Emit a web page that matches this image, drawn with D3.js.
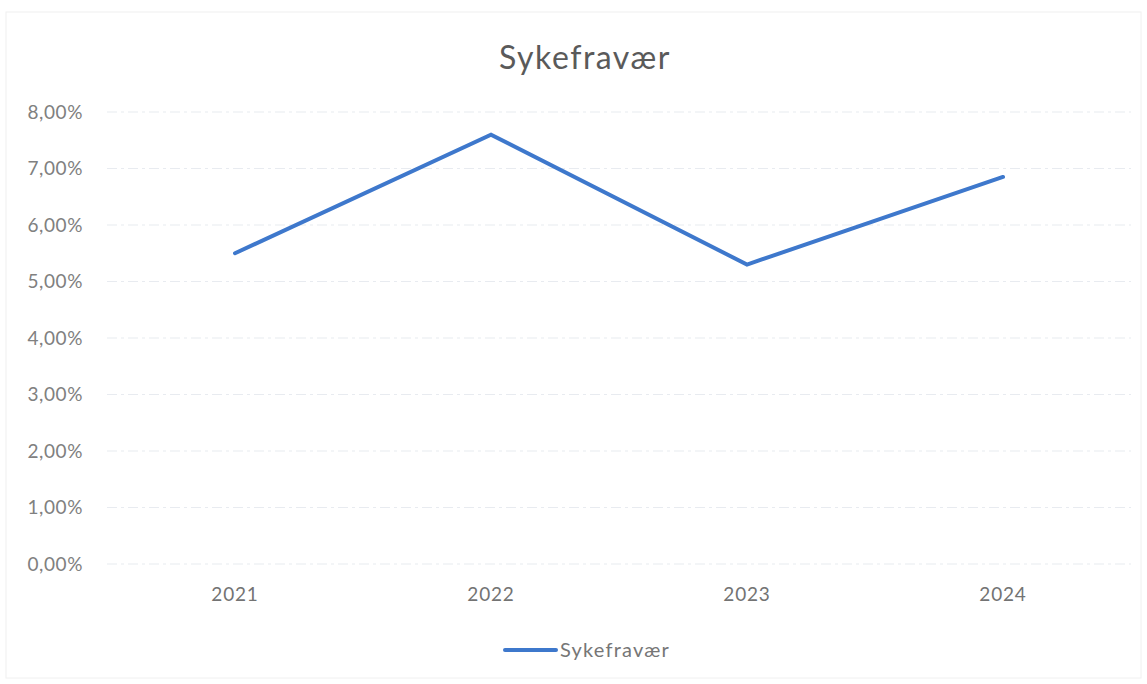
<!DOCTYPE html>
<html><head><meta charset="utf-8">
<script src="https://cdn.jsdelivr.net/npm/d3@7"></script>
<style>body{margin:0;background:#fff;} svg{display:block;}</style>
</head><body>
<script>
const categories = ["2021","2022","2023","2024"];
const values = [0.055, 0.076, 0.053, 0.0685];
const yTicks = [0,0.01,0.02,0.03,0.04,0.05,0.06,0.07,0.08];
const seriesName = "Sykefravær";
const title = "Sykefravær";

const W=1147,H=684;
const svg=d3.select("body").append("svg").attr("width",W).attr("height",H);
svg.append("rect").attr("x",6).attr("y",12).attr("width",W-12).attr("height",H-18)
  .attr("fill","none").attr("stroke","#f0f0f0").attr("stroke-width",1);
const font="Lato, 'Open Sans', sans-serif";
const x=d3.scaleBand().domain(categories).range([107,1131]);
const y=d3.scaleLinear().domain([0,0.08]).range([564,112]);
const fmt=d=>d3.format(".2f")(d*100).replace(".",",")+"%";

const g=svg.append("g");
g.selectAll("line.grid").data(yTicks).join("line").attr("class","grid")
 .attr("x1",107).attr("x2",1131).attr("y1",d=>y(d)).attr("y2",d=>y(d))
 .attr("stroke","#e8ebf0").attr("stroke-width",1.2).attr("stroke-dasharray","10,4,3,4");

const ya=svg.append("g").attr("transform","translate(95,0)")
 .call(d3.axisLeft(y).tickValues(yTicks).tickFormat(fmt).tickSize(0));
ya.select(".domain").remove();
ya.selectAll("text").attr("font-family",font).attr("font-size",19).attr("fill","#808080")
 .attr("x",-12).attr("letter-spacing",0.6);

const xa=svg.append("g").attr("transform","translate(0,584)")
 .call(d3.axisBottom(x).tickSize(0));
xa.select(".domain").remove();
xa.selectAll("text").attr("font-family",font).attr("font-size",19).attr("fill","#737373")
 .attr("dy","0.75em").attr("letter-spacing",0.8);

const line=d3.line().x((d,i)=>x(categories[i])+x.bandwidth()/2).y(d=>y(d));
svg.append("path").datum(values).attr("d",line).attr("fill","none")
 .attr("stroke","#3e78cc").attr("stroke-width",4).attr("stroke-linejoin","miter").attr("stroke-linecap","round");

svg.append("text").attr("x",585).attr("y",69).attr("text-anchor","middle")
 .attr("font-family",font).attr("font-size",32).attr("fill","#5a5a5a").attr("letter-spacing",1.5).text(title);

svg.append("line").attr("x1",505).attr("x2",556).attr("y1",650).attr("y2",650)
 .attr("stroke","#3e78cc").attr("stroke-width",4).attr("stroke-linecap","round");
svg.append("text").attr("x",560).attr("y",657).attr("font-family",font).attr("font-size",20)
 .attr("fill","#767676").attr("letter-spacing",1.2).text(seriesName);
</script>
</body></html>
